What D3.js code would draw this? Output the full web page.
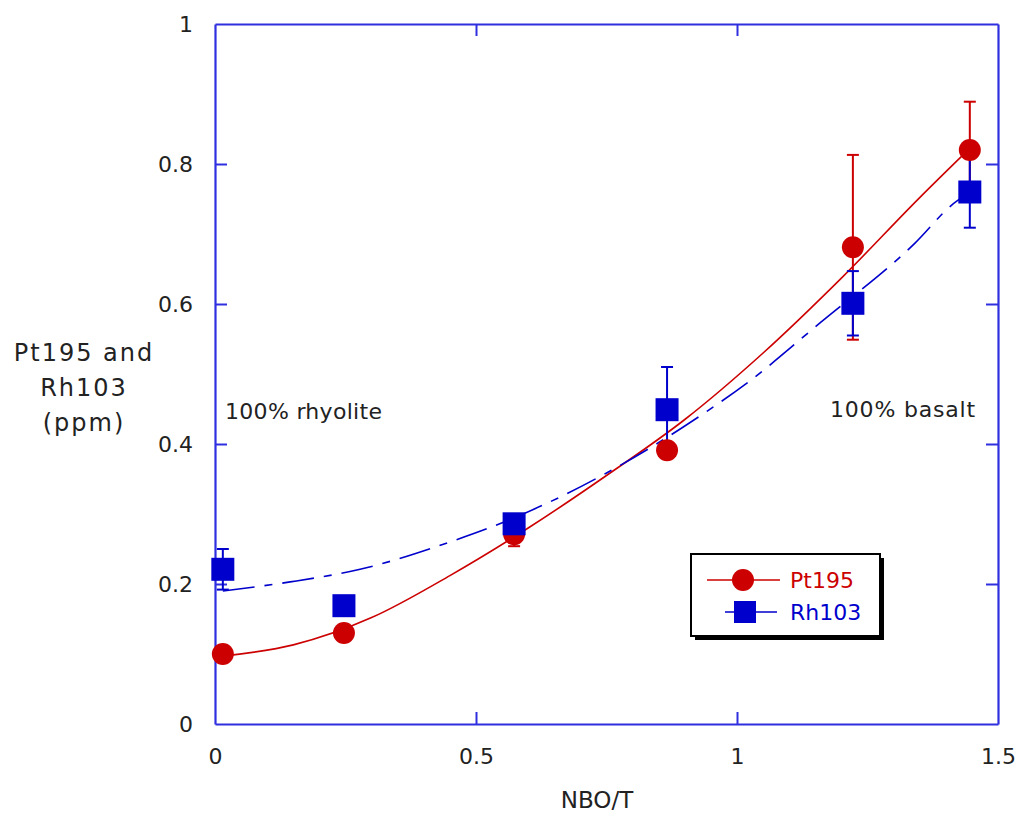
<!DOCTYPE html>
<html>
<head>
<meta charset="utf-8">
<script src="https://cdn.jsdelivr.net/npm/d3@7"></script>
<style>
  html, body { margin: 0; padding: 0; background: #fff; }
  svg text { font-family: "DejaVu Sans", "Liberation Sans", Arial, sans-serif; }
</style>
</head>
<body>
<svg id="chart" width="1024" height="817"></svg>
<script>
// ---- Data ----
const nboT      = [0.015, 0.247, 0.573, 0.866, 1.222, 1.446];
const pt195     = [0.100, 0.130, 0.271, 0.391, 0.681, 0.820];
const pt195Err  = [0.000, 0.000, 0.017, 0.000, 0.132, 0.069];
const rh103     = [0.221, 0.169, 0.286, 0.449, 0.601, 0.760];
const rh103Err  = [0.029, 0.000, 0.000, 0.061, 0.046, 0.051];

// fitted curves as drawn in the reference
const ptFitX = [0.015, 0.15, 0.30, 0.45, 0.60, 0.75, 0.90, 1.05, 1.20, 1.35, 1.44];
const ptFitY = [0.097, 0.113, 0.152, 0.212, 0.280, 0.355, 0.435, 0.530, 0.637, 0.752, 0.818];
const rhFitX = [0.015, 0.144, 0.278, 0.45, 0.542, 0.674, 0.751, 0.943, 1.019, 1.159, 1.341, 1.414, 1.44];
const rhFitY = [0.190, 0.203, 0.221, 0.260, 0.285, 0.329, 0.359, 0.447, 0.487, 0.573, 0.687, 0.743, 0.757];

const xTicks = [0, 0.5, 1, 1.5];
const xTickLabels = ["0", "0.5", "1", "1.5"];
const yTicks = [0, 0.2, 0.4, 0.6, 0.8, 1];
const yTickLabels = ["0", "0.2", "0.4", "0.6", "0.8", "1"];

const seriesNames = ["Pt195", "Rh103"];
const annotations = ["100% rhyolite", "100% basalt"];
const xTitle = "NBO/T";
const yTitleLines = ["Pt195 and", "Rh103", "(ppm)"];

// ---- Layout ----
const RED = "#cc0000", BLUE = "#0000cc", AXIS = "#2f2fe0", TXT = "#222";
const FONT = "'DejaVu Sans', 'Liberation Sans', Arial, sans-serif";
const L = 215, R = 998, T = 24, B = 724;
const svg = d3.select("#chart");
const x = d3.scaleLinear().domain([0, 1.5]).range([L, R]);
const y = d3.scaleLinear().domain([0, 1]).range([B, T]);

// Axes with inward ticks
const fmtX = (d, i) => xTickLabels[i];
const fmtY = (d, i) => yTickLabels[i];
function styleAxis(g) {
  g.selectAll("path.domain").attr("stroke", AXIS).attr("stroke-width", 2.2);
  g.selectAll(".tick line").attr("stroke", AXIS).attr("stroke-width", 2);
  g.selectAll(".tick text").attr("fill", TXT).style("font-size", "22px").style("font-family", FONT);
}
const gB = svg.append("g").attr("transform", `translate(0,${B})`)
  .call(d3.axisBottom(x).tickValues(xTicks).tickFormat(fmtX).tickSizeInner(-12).tickSizeOuter(0).tickPadding(24));
styleAxis(gB);
const gT = svg.append("g").attr("transform", `translate(0,${T})`)
  .call(d3.axisTop(x).tickValues(xTicks).tickFormat(() => "").tickSizeInner(-12).tickSizeOuter(0));
styleAxis(gT);
const gL = svg.append("g").attr("transform", `translate(${L},0)`)
  .call(d3.axisLeft(y).tickValues(yTicks).tickFormat(fmtY).tickSizeInner(-12).tickSizeOuter(0).tickPadding(22));
styleAxis(gL);
const gR = svg.append("g").attr("transform", `translate(${R},0)`)
  .call(d3.axisRight(y).tickValues(yTicks).tickFormat(() => "").tickSizeInner(-12).tickSizeOuter(0));
styleAxis(gR);
// hide end ticks lying on the frame
[gB, gT].forEach(g => g.selectAll(".tick line").filter(d => d === 0 || d === 1.5).remove());
[gL, gR].forEach(g => g.selectAll(".tick line").filter(d => d === 0 || d === 1).remove());

// Titles
svg.append("text").attr("x", 597).attr("y", 808).attr("text-anchor", "middle")
  .attr("fill", TXT).style("font-size", "23px").text(xTitle);
yTitleLines.forEach((t, i) => {
  svg.append("text").attr("x", 84).attr("y", 361 + i * 35).attr("text-anchor", "middle")
    .attr("fill", TXT).style("font-size", "24px").style("letter-spacing", "2px").text(t);
});
svg.append("text").attr("x", 225).attr("y", 419).attr("fill", TXT).style("font-size", "22px")
  .style("letter-spacing", "0.3px").text(annotations[0]);
svg.append("text").attr("x", 830).attr("y", 417).attr("fill", TXT).style("font-size", "22px")
  .style("letter-spacing", "0.8px").text(annotations[1]);

// Fit curves
const line = d3.line().x(d => x(d[0])).y(d => y(d[1])).curve(d3.curveMonotoneX);
svg.append("path").datum(d3.zip(ptFitX, ptFitY)).attr("d", line)
  .attr("fill", "none").attr("stroke", RED).attr("stroke-width", 1.6);
svg.append("path").datum(d3.zip(rhFitX, rhFitY)).attr("d", line)
  .attr("fill", "none").attr("stroke", BLUE).attr("stroke-width", 1.6)
  .attr("stroke-dasharray", "32,10,8,10");

// Error bars
function errBars(vals, errs, color) {
  const g = svg.append("g").attr("stroke", color).attr("stroke-width", 2);
  nboT.forEach((xv, i) => {
    if (!errs[i]) return;
    const y1 = y(vals[i] + errs[i]), y2 = y(vals[i] - errs[i]), cx = x(xv);
    g.append("line").attr("x1", cx).attr("x2", cx).attr("y1", y1).attr("y2", y2);
    g.append("line").attr("x1", cx - 6).attr("x2", cx + 6).attr("y1", y1).attr("y2", y1);
    g.append("line").attr("x1", cx - 6).attr("x2", cx + 6).attr("y1", y2).attr("y2", y2);
  });
}
errBars(pt195, pt195Err, RED);
errBars(rh103, rh103Err, BLUE);

// Markers
svg.append("g").selectAll("circle").data(d3.zip(nboT, pt195)).join("circle")
  .attr("cx", d => x(d[0])).attr("cy", d => y(d[1])).attr("r", 11).attr("fill", RED);
const S = 23;
svg.append("g").selectAll("rect").data(d3.zip(nboT, rh103)).join("rect")
  .attr("x", d => x(d[0]) - S / 2).attr("y", d => y(d[1]) - S / 2)
  .attr("width", S).attr("height", S).attr("fill", BLUE);

// Legend
const lg = svg.append("g");
lg.append("rect").attr("x", 695).attr("y", 558).attr("width", 189).attr("height", 82).attr("fill", "#000");
lg.append("rect").attr("x", 691).attr("y", 554).attr("width", 189).attr("height", 82)
  .attr("fill", "#fff").attr("stroke", "#000").attr("stroke-width", 2);
lg.append("line").attr("x1", 707).attr("x2", 780).attr("y1", 580).attr("y2", 580).attr("stroke", RED).attr("stroke-width", 1.6);
lg.append("circle").attr("cx", 743).attr("cy", 580).attr("r", 11).attr("fill", RED);
lg.append("text").attr("x", 790).attr("y", 588).attr("fill", RED).style("font-size", "22px").text(seriesNames[0]);
lg.append("line").attr("x1", 725).attr("x2", 777).attr("y1", 612).attr("y2", 612).attr("stroke", BLUE).attr("stroke-width", 1.6);
lg.append("rect").attr("x", 745 - 11).attr("y", 612 - 11).attr("width", 22).attr("height", 22).attr("fill", BLUE);
lg.append("text").attr("x", 790).attr("y", 620).attr("fill", BLUE).style("font-size", "22px").text(seriesNames[1]);
</script>
</body>
</html>
